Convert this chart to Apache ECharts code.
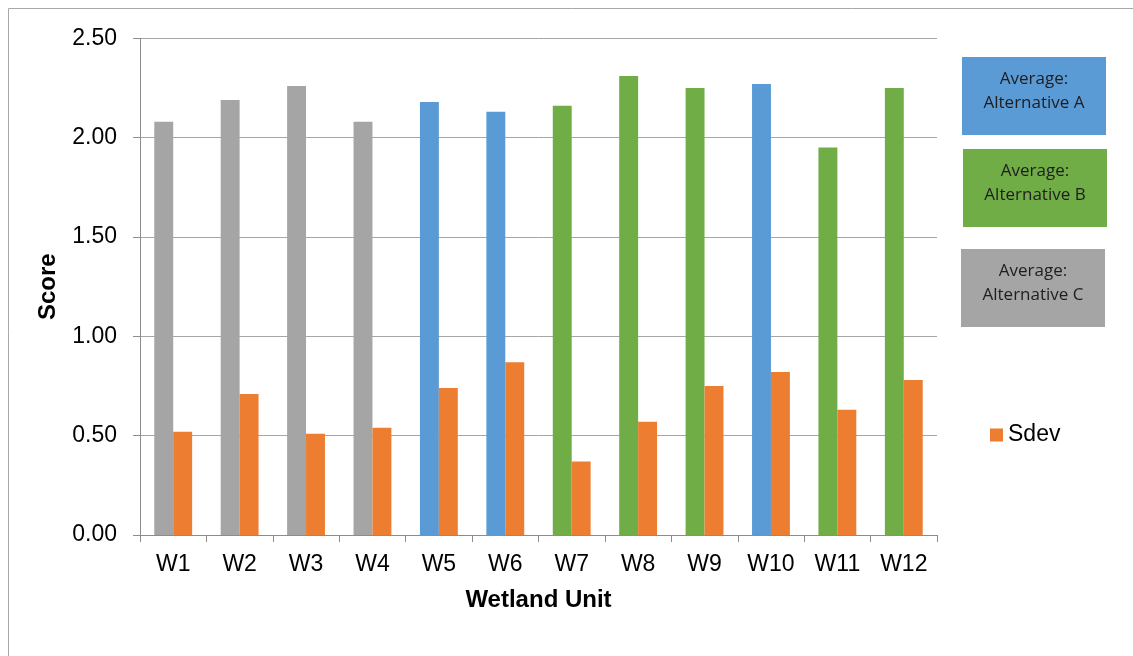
<!DOCTYPE html>
<html>
<head>
<meta charset="utf-8">
<title>Wetland Unit Scores</title>
<script src="https://cdn.jsdelivr.net/npm/echarts@6/dist/echarts.min.js"></script>
<style>
  html, body { margin: 0; padding: 0; background: #ffffff; }
  #chart { width: 1133px; height: 656px; }
</style>
</head>
<body>
<div id="chart"></div>
<script>
// Wetland units along the x axis
const units = ['W1', 'W2', 'W3', 'W4', 'W5', 'W6', 'W7', 'W8', 'W9', 'W10', 'W11', 'W12'];

// Average score per unit, split by the alternative each unit belongs to ('-' = not in that alternative)
const avgAlternativeA = ['-', '-', '-', '-', 2.18, 2.13, '-', '-', '-', 2.27, '-', '-'];
const avgAlternativeB = ['-', '-', '-', '-', '-', '-', 2.16, 2.31, 2.25, '-', 1.95, 2.25];
const avgAlternativeC = [2.08, 2.19, 2.26, 2.08, '-', '-', '-', '-', '-', '-', '-', '-'];

// Standard deviation of the score per unit
const sdev = [0.52, 0.71, 0.51, 0.54, 0.74, 0.87, 0.37, 0.57, 0.75, 0.82, 0.63, 0.78];

// Y axis ticks
const yTicks = { min: 0, max: 2.5, interval: 0.5 };

const seriesNames = {
  a: 'Average: Alternative A',
  b: 'Average: Alternative B',
  c: 'Average: Alternative C',
  s: 'Sdev'
};

const colors = {
  a: '#5b9bd5',
  b: '#70ad47',
  c: '#a5a5a5',
  s: '#ed7d31'
};

const axisGray = '#8c8c8c';
const gridGray = '#a6a6a6';
const tickFont = { fontFamily: 'Liberation Sans', fontSize: 23, color: '#000' };

const chart = echarts.init(document.getElementById('chart'), null, { renderer: 'canvas' });

function avgSeries(key, data) {
  return {
    name: seriesNames[key],
    type: 'bar',
    stack: 'average',
    data: data,
    barGap: '0%',
    barCategoryGap: '43%',
    itemStyle: { color: colors[key] },
    silent: true
  };
}

// Legend boxes for the three alternatives
const boxes = [
  { key: 'a', x: 962, y: 57 },
  { key: 'b', x: 963, y: 149 },
  { key: 'c', x: 961, y: 249 }
];
const boxGraphics = [];
boxes.forEach(b => {
  boxGraphics.push({
    type: 'rect',
    shape: { x: b.x, y: b.y, width: 144, height: 78 },
    style: { fill: colors[b.key] },
    silent: true
  });
  boxGraphics.push({
    type: 'text',
    x: b.x + 72,
    y: b.y + 34,
    style: {
      text: seriesNames[b.key].replace(': ', ':\n'),
      fill: '#1e1e1e',
      font: '17px "Open Sans"',
      lineHeight: 24,
      align: 'center',
      verticalAlign: 'middle'
    },
    silent: true
  });
});

const option = {
  backgroundColor: '#ffffff',
  animation: false,
  grid: { left: 140, right: 196, top: 38.3, bottom: 121 },
  legend: {
    data: [seriesNames.s],
    left: 990,
    top: 422,
    padding: 0,
    icon: 'rect',
    itemWidth: 13,
    itemHeight: 13,
    textStyle: { fontFamily: 'Liberation Sans', fontSize: 23, color: '#000', lineHeight: 26 },
    selectedMode: false
  },
  xAxis: {
    type: 'category',
    data: units,
    name: 'Wetland Unit',
    nameLocation: 'middle',
    nameGap: 53,
    nameTextStyle: { fontFamily: 'Liberation Sans', fontSize: 24, fontWeight: 'bold', color: '#000' },
    axisLine: { lineStyle: { color: axisGray, width: 1 } },
    axisTick: { show: true, alignWithLabel: false, length: 7, lineStyle: { color: axisGray } },
    axisLabel: Object.assign({ margin: 18, interval: 0 }, tickFont),
    splitLine: { show: false }
  },
  yAxis: {
    type: 'value',
    min: yTicks.min,
    max: yTicks.max,
    interval: yTicks.interval,
    name: 'Score',
    nameLocation: 'middle',
    nameGap: 80,
    nameRotate: 90,
    nameTextStyle: { fontFamily: 'Liberation Sans', fontSize: 24, fontWeight: 'bold', color: '#000' },
    axisLine: { show: true, lineStyle: { color: axisGray, width: 1 } },
    axisTick: { show: true, length: 7, lineStyle: { color: axisGray } },
    axisLabel: Object.assign({ margin: 23, formatter: v => v.toFixed(2) }, tickFont),
    splitLine: { show: true, lineStyle: { color: gridGray, width: 1 } }
  },
  series: [
    avgSeries('a', avgAlternativeA),
    avgSeries('b', avgAlternativeB),
    avgSeries('c', avgAlternativeC),
    {
      name: seriesNames.s,
      type: 'bar',
      data: sdev,
      barGap: '0%',
      barCategoryGap: '43%',
      itemStyle: { color: colors.s },
      silent: true
    }
  ],
  graphic: [
    {
      type: 'rect',
      shape: { x: 8.5, y: 8.5, width: 1200, height: 700 },
      style: { fill: null, stroke: '#a8a8a8', lineWidth: 1 },
      silent: true,
      z: -10
    }
  ].concat(boxGraphics)
};

chart.setOption(option);
</script>
</body>
</html>
